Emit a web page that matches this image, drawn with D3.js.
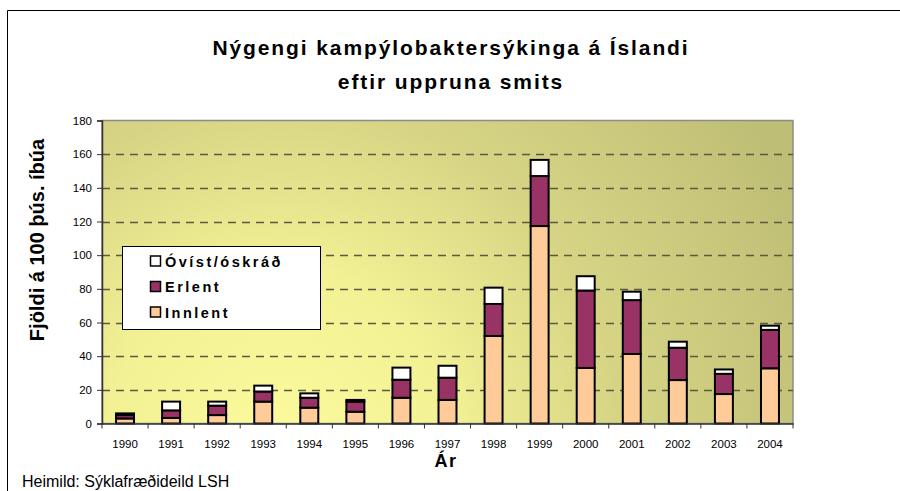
<!DOCTYPE html>
<html>
<head>
<meta charset="utf-8">
<script src="https://cdn.jsdelivr.net/npm/d3@7"></script>
<style>
  html, body { margin: 0; padding: 0; background: #fff; }
  svg { display: block; font-family: Arial, "Liberation Sans", sans-serif; }
</style>
</head>
<body>
<svg id="chart" width="900" height="491"></svg>
<script>
const years = ["1990","1991","1992","1993","1994","1995","1996","1997","1998","1999","2000","2001","2002","2003","2004"];
const innlent = [3, 3.3, 5, 13, 9.4, 7, 15.3, 14, 52, 117.3, 33, 41.3, 25.8, 17.5, 32.8];
const erlent  = [2, 4.5, 5.6, 6, 5.9, 6, 10.7, 13.2, 19, 29.7, 46, 32, 19.2, 12, 22.8];
const ovist   = [1, 5.2, 2.4, 3.5, 2.6, 1, 7.2, 7.1, 9.7, 9.6, 8.5, 5, 3.6, 2.6, 2.5];
const seriesNames = ["Innlent", "Erlent", "Óvíst/óskráð"];
const seriesColors = ["#ffcc99", "#993366", "#ffffff"];
const yTicks = [0, 20, 40, 60, 80, 100, 120, 140, 160, 180];
const titleLines = ["Nýgengi kampýlobaktersýkinga á Íslandi", "eftir uppruna smits"];
const yLabel = "Fjöldi á 100 þús. íbúa";
const xLabel = "Ár";
const source = "Heimild: Sýklafræðideild LSH";

const svg = d3.select("#chart");
const plot = { left: 102, top: 120.5, right: 793, bottom: 423.5 };

// outer frame
svg.append("line").attr("x1", 7.5).attr("y1", 10.5).attr("x2", 900).attr("y2", 10.5).attr("stroke", "#000").attr("stroke-width", 1);
svg.append("line").attr("x1", 7.5).attr("y1", 10.5).attr("x2", 7.5).attr("y2", 491).attr("stroke", "#000").attr("stroke-width", 1);

// gradient
const defs = svg.append("defs");
const grad = defs.append("radialGradient").attr("id", "bg")
  .attr("gradientUnits", "userSpaceOnUse")
  .attr("cx", 280).attr("cy", 440).attr("r", 570)
  .attr("fx", 280).attr("fy", 440);
grad.append("stop").attr("offset", "0%").attr("stop-color", "#fbfb9e");
grad.append("stop").attr("offset", "30%").attr("stop-color", "#f2f194");
grad.append("stop").attr("offset", "60%").attr("stop-color", "#d6d484");
grad.append("stop").attr("offset", "100%").attr("stop-color", "#bfbe76");

svg.append("rect").attr("x", plot.left).attr("y", plot.top)
  .attr("width", plot.right - plot.left).attr("height", plot.bottom - plot.top)
  .attr("fill", "url(#bg)").attr("stroke", "#8c8c8c").attr("stroke-width", 1.5);

const x = d3.scaleBand().domain(years).range([plot.left, plot.right]).paddingInner(0.61).paddingOuter(0.305);
const y = d3.scaleLinear().domain([0, 180]).range([plot.bottom, plot.top]);

// gridlines
svg.append("g").selectAll("line").data(yTicks.filter(d => d > 0 && d < 180)).join("line")
  .attr("x1", plot.left).attr("x2", plot.right)
  .attr("y1", d => Math.round(y(d)) + 0.5).attr("y2", d => Math.round(y(d)) + 0.5)
  .attr("stroke", "#5a5a40").attr("stroke-width", 1.3).attr("stroke-dasharray", "8,6");

// stacked bars
const table = years.map((yr, i) => ({ year: yr, Innlent: innlent[i], Erlent: erlent[i], "Óvíst/óskráð": ovist[i] }));
const stack = d3.stack().keys(seriesNames)(table);
const gBars = svg.append("g");
stack.forEach((layer, li) => {
  gBars.append("g").selectAll("rect").data(layer).join("rect")
    .attr("x", d => x(d.data.year))
    .attr("y", d => y(d[1]))
    .attr("width", x.bandwidth())
    .attr("height", d => y(d[0]) - y(d[1]))
    .attr("fill", seriesColors[li])
    .attr("stroke", "#000").attr("stroke-width", 2);
});

// y axis
const yAxis = d3.axisLeft(y).tickValues(yTicks).tickSize(5).tickPadding(5);
const gy = svg.append("g").attr("transform", `translate(${plot.left},0)`).call(yAxis);
gy.select(".domain").attr("stroke", "#333").attr("stroke-width", 1.5);
gy.selectAll(".tick line").attr("stroke", "#333");
gy.selectAll("text").attr("font-size", 11.5).attr("fill", "#000").attr("font-family", "Arial, 'Liberation Sans', sans-serif");

// x axis
const xAxis = d3.axisBottom(x).tickSize(0).tickPadding(16);
const gx = svg.append("g").attr("transform", `translate(0,${plot.bottom})`).call(xAxis);
gx.select(".domain").attr("stroke", "#333").attr("stroke-width", 1.5);
gx.selectAll("text").attr("font-size", 11.5).attr("fill", "#000").attr("font-family", "Arial, 'Liberation Sans', sans-serif");
// category separator ticks
const sepPositions = years.map(yr => x(yr) - x.step() * x.paddingInner() / 2).concat([plot.right]);
svg.append("g").selectAll("line").data(sepPositions).join("line")
  .attr("x1", d => d).attr("x2", d => d)
  .attr("y1", plot.bottom).attr("y2", plot.bottom + 5)
  .attr("stroke", "#333").attr("stroke-width", 1);

// title
svg.append("g").selectAll("text").data(titleLines).join("text")
  .attr("x", 451).attr("y", (d, i) => 55 + i * 34)
  .attr("text-anchor", "middle")
  .attr("font-size", 21).attr("font-weight", "bold").attr("letter-spacing", 1.9)
  .text(d => d);

// axis labels
svg.append("text").attr("transform", "translate(44,240) rotate(-90)")
  .attr("text-anchor", "middle").attr("font-size", 20).attr("font-weight", "bold")
  .text(yLabel);
svg.append("text").attr("x", 446).attr("y", 467).attr("text-anchor", "middle")
  .attr("font-size", 18).attr("font-weight", "bold").attr("letter-spacing", 1.5).text(xLabel);

// source
svg.append("text").attr("x", 22).attr("y", 487).attr("font-size", 16).text(source);

// legend
const lg = svg.append("g").attr("transform", "translate(122,246)");
lg.append("rect").attr("x", 0.5).attr("y", 0.5).attr("width", 198).attr("height", 83)
  .attr("fill", "#fff").attr("stroke", "#000").attr("stroke-width", 1);
const legendOrder = [2, 1, 0];
legendOrder.forEach((si, row) => {
  const cy = 15 + row * 25.5;
  lg.append("rect").attr("x", 28.5).attr("y", cy - 5).attr("width", 10).attr("height", 10)
    .attr("fill", seriesColors[si]).attr("stroke", "#000").attr("stroke-width", 1.5);
  lg.append("text").attr("x", 43).attr("y", cy + 5.5)
    .attr("font-size", 14.5).attr("font-weight", "bold").attr("letter-spacing", 2.5)
    .text(seriesNames[si]);
});
</script>
</body>
</html>
